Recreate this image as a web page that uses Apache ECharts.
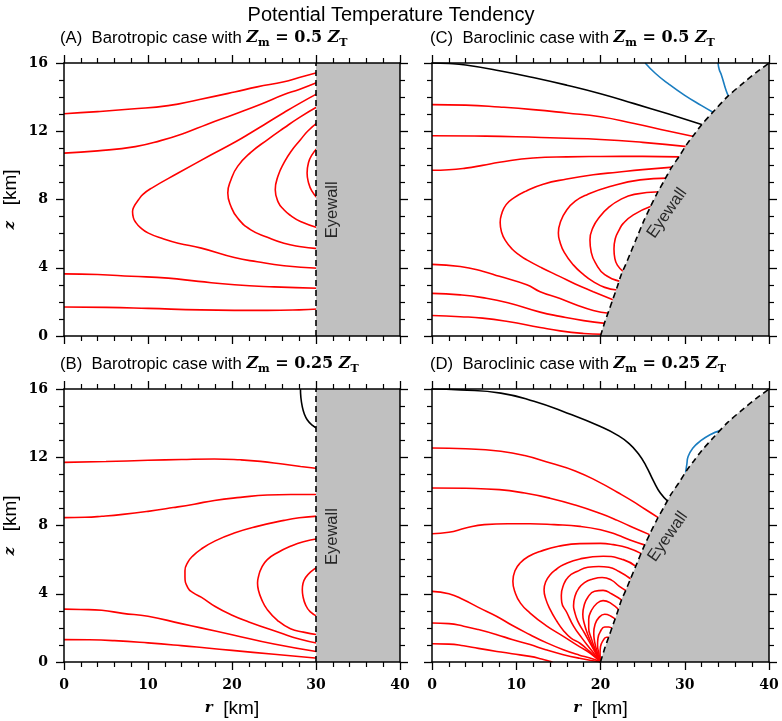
<!DOCTYPE html>
<html>
<head>
<meta charset="utf-8">
<title>Potential Temperature Tendency</title>
<script src="https://cdn.jsdelivr.net/npm/echarts@6.0.0/dist/echarts.min.js"></script>
<style>html,body{margin:0;padding:0;background:#fff}</style>
</head>
<body>
<div id="main" style="width:782px;height:721px"></div>
<script>
// contour lines, each curve is a list of [r (km), z (km)]
var aRed = [
  [[0,13.03],[4,13.15],[8,13.3],[12.4,13.5],[16,13.85],[20.3,14.3],[23,14.6],[26.2,14.9],[28,15.15],[30.2,15.44]],
  [[0,10.72],[4,10.85],[8.5,11.1],[11.5,11.45],[14.4,11.9],[17,12.4],[20.3,13.0],[23.5,13.6],[26.2,14.15],[28,14.45],[30.2,14.87]],
  [[30.2,14.22],[28,13.62],[26.2,13.1],[24.2,12.5],[22.3,11.93],[20.48,11.4],[17.53,10.62],[13.59,9.55],[10.44,8.67],[9.4,8.3],[8.87,7.98],[8.35,7.6],[8.16,7.29],[8.25,6.95],[8.47,6.71],[9.1,6.35],[10.05,6.03],[11.8,5.7],[13.59,5.44],[16.35,5.15],[20.28,4.6],[23,4.35],[26.2,4.12],[30.2,3.97]],
  [[30.2,13.45],[28,12.8],[26.18,12.19],[24.21,11.5],[22.24,10.76],[20.67,9.94],[19.88,9.16],[19.5,8.38],[19.88,7.59],[20.67,6.91],[22.24,6.22],[24.21,5.79],[26.18,5.44],[28,5.25],[30.2,5.12]],
  [[30.2,12.52],[29,12.0],[28.15,11.5],[27,10.8],[26.18,10.14],[25.5,9.4],[25.15,8.57],[25.5,7.85],[26.18,7.4],[27,7.05],[28.15,6.71],[30.2,6.35]],
  [[30.2,11.05],[29.5,10.6],[29.13,10.2],[28.94,9.55],[29.1,9.0],[29.5,8.5],[30.2,8.05]],
  [[0,3.64],[4,3.6],[8,3.5],[12.4,3.39],[16,3.2],[20.3,3.0],[25,2.88],[30.2,2.8]],
  [[0,1.7],[5,1.68],[10,1.62],[16.3,1.53],[24.2,1.5],[28,1.53],[30.2,1.58]]
];
var bRed = [
  [[0,11.7],[5,11.75],[10,11.82],[14,11.87],[17.9,11.9],[21,11.85],[23.4,11.76],[26,11.6],[28.17,11.46],[30.2,11.34]],
  [[0,8.46],[2.5,8.48],[4.5,8.54],[7,8.65],[10,8.83],[13,9.05],[15.5,9.25],[17.9,9.47],[21,9.65],[24.2,9.79],[27,9.82],[30.2,9.82]],
  [[30.2,8.55],[28,8.45],[26.2,8.3],[23,7.95],[20.27,7.56],[18,7.1],[16.33,6.62],[15.3,6.2],[14.75,5.85],[14.4,5.35],[14.4,5.0],[14.75,4.35],[15.4,4.05],[16.33,3.8],[18,3.25],[19.88,2.77],[22,2.35],[25.8,1.7],[28,1.35],[30.2,1.1]],
  [[30.2,7.22],[28.5,7.05],[26.96,6.78],[25.4,6.4],[24.2,6.0],[23.5,5.5],[23.15,5.0],[23.04,4.63],[23.15,4.2],[23.5,3.7],[24.2,3.07],[25.5,2.4],[26.96,1.95],[28.5,1.75],[30.2,1.6]],
  [[30.2,5.57],[29.4,5.3],[28.76,4.95],[28.45,4.6],[28.37,4.24],[28.45,3.85],[28.76,3.35],[29.3,2.95],[30.2,2.66]],
  [[0,3.1],[2,3.08],[4.5,3.03],[7,2.85],[10,2.68],[13.96,2.25],[16.3,2.0],[20,1.6],[25,1.05],[30.2,0.6]],
  [[0,1.31],[3,1.3],[6,1.25],[10,1.12],[13.96,0.96],[17,0.82],[20,0.68],[25,0.45],[30.2,0.22]]
];
var bBlack = [
  [[28.15,16],[28.2,15.5],[28.36,14.98],[28.6,14.55],[28.95,14.2],[29.5,13.9],[30.2,13.68]]
];
var cRed = [
  [[0,13.56],[4,13.53],[8,13.42],[12,13.27],[16,13.07],[20,12.85],[24,12.45],[28,12.02],[31.2,11.68]],
  [[0,11.74],[5,11.72],[10,11.68],[15,11.6],[20,11.52],[25,11.35],[30.3,11.1]],
  [[0,9.71],[2,9.74],[4,9.84],[6,10.0],[8,10.18],[12,10.43],[16,10.5],[20,10.52],[25,10.53],[29.4,10.5]],
  [[28.6,9.9],[25,9.75],[22,9.6],[19.14,9.45],[16,9.2],[13.2,8.9],[11.2,8.5],[9.67,8.08],[8.8,7.7],[8.3,7.2],[8.09,6.65],[8.25,6.1],[8.7,5.6],[9.5,5.1],[10.5,4.7],[11.25,4.46],[13,4.0],[15.2,3.48],[17,3.05],[19.14,2.6],[21.55,2.11]],
  [[27.9,9.25],[24.7,9.15],[21.12,8.76],[18.35,8.27],[17,7.9],[15.99,7.39],[15.3,6.75],[15.0,6.03],[15.2,5.5],[15.7,4.9],[16.77,4.17],[18,3.6],[19.14,3.19],[20.5,2.85],[21.95,2.7]],
  [[27.0,8.45],[24,8.3],[22.3,7.98],[21,7.55],[19.93,7.0],[19.1,6.35],[18.75,5.63],[18.9,4.9],[19.5,4.2],[20.5,3.6],[22.3,3.2]],
  [[26.0,7.6],[23.9,7.1],[22.7,6.6],[22.2,6.2],[21.75,5.7],[21.6,5.1],[21.7,4.55],[22.0,4.15],[22.7,3.77]],
  [[0,4.2],[3.35,4.07],[6,3.8],[8,3.5],[11.25,3.0],[12.83,2.6],[15.2,2.2],[17,1.85],[19.14,1.5],[21.0,1.33]],
  [[0,2.5],[3.35,2.41],[6,2.25],[9,1.95],[12.83,1.4],[15.2,1.15],[18,0.9],[20.55,0.74]],
  [[0,1.2],[3.35,1.13],[6,1.05],[9,0.85],[12.83,0.5],[15.2,0.3],[18,0.15],[20.15,0.1]]
];
var cBlack = [
  [[0,16],[2,15.97],[4,15.88],[8,15.55],[12,15.15],[16,14.7],[20,14.2],[24,13.62],[28,13.02],[32.1,12.38]]
];
var cBlue = [
  [[25.3,16],[26.5,15.4],[28,14.8],[30,14.1],[32,13.5],[33.4,13.1]],
  [[33.95,16],[34.1,15.6],[34.35,15.3],[34.9,14.4],[35.2,14.04]]
];
var dRed = [
  [[0,12.54],[4,12.5],[8.16,12.35],[11,12.1],[14.07,11.66],[17,11.2],[20,10.5],[22,9.95],[23.9,9.4],[25.3,8.95],[26.9,8.45]],
  [[0,10.2],[4,10.18],[8,10.1],[11,9.9],[14,9.6],[17,9.2],[20,8.7],[22,8.3],[24,7.85],[25.9,7.45]],
  [[0,7.52],[2,7.6],[4,7.85],[6.2,8.05],[9,8.1],[11.64,8.1],[14.5,8.05],[17.56,7.95],[20,7.75],[21.95,7.46],[23.5,7.15],[25.3,6.85]],
  [[24.85,6.35],[23.2,6.7],[21.5,6.88],[20,6.95],[17.56,6.94],[15,6.78],[12.83,6.48],[11.5,6.2],[10.46,5.8],[9.85,5.35],[9.6,4.73],[9.85,4.1],[10.5,3.45],[11.64,2.87],[13.5,2.15],[15.59,1.5],[17.5,0.9],[18.75,0.52],[20,0]],
  [[24.2,5.6],[22.7,6.0],[20.33,6.2],[17.56,6.04],[15.59,5.7],[14.8,5.45],[14.0,5.1],[13.5,4.7],[13.3,4.24],[13.5,3.7],[14.0,3.1],[14.8,2.4],[15.59,1.85],[16.5,1.4],[17.56,1.1],[18.7,0.62],[20,0]],
  [[23.65,4.85],[22.2,5.3],[21.0,5.55],[19.8,5.6],[18.5,5.55],[17.2,5.3],[16.2,5.0],[15.6,4.5],[15.35,3.9],[15.4,3.5],[16.0,2.9],[16.8,2.1],[17.8,1.4],[18.9,0.7],[20,0]],
  [[23.15,4.15],[22.2,4.45],[21.3,4.8],[20.2,4.95],[19.0,4.85],[18.1,4.65],[17.4,4.3],[17.0,3.9],[16.8,3.3],[16.9,3.0],[17.3,2.4],[18.1,1.7],[19.0,0.9],[20,0]],
  [[22.75,3.55],[21.3,4.0],[20.3,4.2],[19.3,4.15],[18.5,3.8],[18.05,3.3],[17.9,2.8],[18.05,2.3],[18.5,1.6],[19.2,0.8],[20,0]],
  [[22.3,3.0],[21.2,3.45],[20.3,3.6],[19.5,3.4],[18.9,3.0],[18.6,2.5],[18.6,2.0],[18.9,1.4],[19.4,0.7],[20,0]],
  [[21.9,2.45],[21.2,2.7],[20.5,2.8],[19.8,2.6],[19.35,2.2],[19.2,1.7],[19.3,1.2],[19.6,0.6],[20,0]],
  [[21.5,1.9],[21.0,2.05],[20.5,2.05],[20.0,1.8],[19.7,1.4],[19.65,1.0],[19.8,0.5],[20,0]],
  [[21.1,1.45],[20.7,1.45],[20.3,1.25],[20.0,0.9],[19.95,0.5],[20,0]],
  [[0,4.14],[2,4.0],[3.75,3.65],[5.5,3.2],[7.7,2.67],[9.5,2.15],[11.64,1.6],[13.5,1.15],[15.59,0.72],[17.5,0.4],[18.75,0.23],[20,0]],
  [[0,2.29],[2,2.25],[3.75,2.1],[5.5,1.9],[7.7,1.6],[9.5,1.32],[11.64,1.02],[13.5,0.72],[15.59,0.43],[17.5,0.22],[20,0]],
  [[0,1.07],[2,1.05],[3.75,0.95],[5.5,0.8],[7.7,0.62],[9.5,0.48],[11.64,0.33],[13.0,0.18],[14.3,0]]
];
var dBlack = [
  [[0,16],[3.4,15.95],[8.16,15.76],[12.1,15.28],[16.0,14.6],[20,13.8],[22,13.3],[23.4,12.8],[24.5,12.2],[25.4,11.5],[26.3,10.6],[27.1,9.9],[28.0,9.42]]
];
var dBlue = [
  [[30.1,11.1],[30.25,11.6],[30.4,12.05],[31.0,12.55],[31.8,12.93],[33.0,13.32],[34.2,13.56]]
];
// eyewall boundaries
var eyewallBarotropic = [[30,0],[30,16]];
var eyewallBaroclinic = [[20,0],[20.5,0.8],[21.0,1.5],[21.5,2.2],[22.0,2.9],[22.5,3.65],[23.0,4.2],[23.5,4.8],[24.3,5.75],[25.1,6.7],[25.9,7.55],[26.7,8.35],[27.5,9.05],[28.4,9.85],[29.3,10.5],[30.2,11.2],[31.1,11.8],[32.0,12.38],[33.3,13.1],[35.1,14.04],[37.0,14.85],[38.5,15.45],[40,16]];
var rTicks = [0, 40, 10];
var zTicks = [0, 16, 4];
var panelNames = ['(A)', '(B)', '(C)', '(D)'];
var panelCases = ['Barotropic', 'Barotropic', 'Baroclinic', 'Baroclinic'];
var panelRatios = ['0.5', '0.25', '0.5', '0.25'];

var myChart = echarts.init(document.getElementById('main'), null, {renderer: 'canvas'});

var sans = 'Liberation Sans';
var serif = 'DejaVu Serif';

var grids = [
  {left: 62, top: 63, width: 338, height: 273},
  {left: 62, top: 389, width: 338, height: 273},
  {left: 432, top: 63, width: 337, height: 273},
  {left: 432, top: 389, width: 337, height: 273}
];

var nameRich = {
  i: {fontFamily: serif, fontStyle: 'italic', fontWeight: 'bold', fontSize: 15, color: '#000'},
  t: {fontFamily: sans, fontSize: 19, fontWeight: 'normal', color: '#000'}
};

var xAxes = [], yAxes = [];
function axisCommon(pos, showLabel) {
  return {
    type: 'value', position: pos, z: 10,
    axisLine: {show: true, onZero: false, lineStyle: {color: '#000', width: 1.5}},
    axisTick: {show: true, inside: false, length: 8, lineStyle: {color: '#000', width: 1.3}},
    minorTick: {show: true, splitNumber: 5, length: 5, lineStyle: {color: '#000', width: 1.2}},
    splitLine: {show: false},
    axisLabel: {show: showLabel, fontFamily: serif, fontWeight: 'bold', fontSize: 14, color: '#000', margin: 16}
  };
}
for (var i = 0; i < 4; i++) {
  var xb = axisCommon('bottom', i === 1 || i === 3);
  xb.gridIndex = i; xb.min = rTicks[0]; xb.max = rTicks[1]; xb.interval = rTicks[2];
  if (i === 1 || i === 3) {
    xb.name = '{i|r}{t|  [km]}';
    xb.nameLocation = 'middle';
    xb.nameGap = 37;
    xb.nameTextStyle = {rich: nameRich};
  }
  xAxes[i] = xb;
  var xt = axisCommon('top', false);
  xt.gridIndex = i; xt.min = rTicks[0]; xt.max = rTicks[1]; xt.interval = rTicks[2];
  xAxes[i + 4] = xt;

  var yl = axisCommon('left', i === 0 || i === 1);
  yl.gridIndex = i; yl.min = zTicks[0]; yl.max = zTicks[1]; yl.interval = zTicks[2];
  yl.minorTick.splitNumber = 4;
  if (i === 0 || i === 1) {
    yl.name = '{i|z}{t|   [km]}';
    yl.nameLocation = 'middle';
    yl.nameRotate = 90;
    yl.nameGap = 44;
    yl.nameTextStyle = {rich: nameRich};
  }
  yAxes[i] = yl;
  var yr = axisCommon('right', false);
  yr.gridIndex = i; yr.min = zTicks[0]; yr.max = zTicks[1]; yr.interval = zTicks[2];
  yr.minorTick.splitNumber = 4;
  yAxes[i + 4] = yr;
}

var series = [];
function addLines(g, curves, color) {
  curves.forEach(function (c) {
    series.push({
      type: 'line', xAxisIndex: g, yAxisIndex: g, data: c,
      symbol: 'none', smooth: 0.5, silent: true, z: 2,
      lineStyle: {color: color, width: 1.6}
    });
  });
}
function addEyewall(g, edge, fillTop) {
  series.push({
    type: 'line', xAxisIndex: g, yAxisIndex: g, data: fillTop || edge,
    symbol: 'none', smooth: fillTop ? false : 0.3, silent: true, z: 3,
    lineStyle: {width: 0}, areaStyle: {color: '#c0c0c0', opacity: 1}
  });
  series.push({
    type: 'line', xAxisIndex: g, yAxisIndex: g, data: edge,
    symbol: 'none', smooth: fillTop ? false : 0.3, silent: true, z: 4,
    lineStyle: {color: '#000', width: 1.6, type: [6, 4]}
  });
}
function addLabel(g, pos, angle) {
  series.push({
    type: 'scatter', xAxisIndex: g, yAxisIndex: g, data: [pos],
    symbolSize: 1, itemStyle: {color: 'rgba(0,0,0,0)'}, silent: true, z: 5,
    label: {show: true, position: 'inside', formatter: 'Eyewall', rotate: angle,
      fontFamily: sans, fontSize: 16.5, color: '#000'}
  });
}

addLines(0, aRed, '#ff0000');
addEyewall(0, eyewallBarotropic, [[30,16],[40,16]]);
addLabel(0, [31.9, 7.4], 90);

addLines(1, bRed, '#ff0000');
addLines(1, bBlack, '#000000');
addEyewall(1, eyewallBarotropic, [[30,16],[40,16]]);
addLabel(1, [31.9, 7.35], 90);

addLines(2, cRed, '#ff0000');
addLines(2, cBlack, '#000000');
addLines(2, cBlue, '#1a7dc0');
addEyewall(2, eyewallBaroclinic);
addLabel(2, [27.9, 7.2], 55);

addLines(3, dRed, '#ff0000');
addLines(3, dBlack, '#000000');
addLines(3, dBlue, '#1a7dc0');
addEyewall(3, eyewallBaroclinic);
addLabel(3, [28.0, 7.35], 55);

var subRich = {
  n: {fontFamily: sans, fontSize: 16.7, fontWeight: 'normal', color: '#000', lineHeight: 22},
  z: {fontFamily: serif, fontStyle: 'italic', fontWeight: 'bold', fontSize: 16, color: '#000', lineHeight: 22},
  s: {fontFamily: serif, fontWeight: 'bold', fontSize: 11, color: '#000', lineHeight: 14, padding: [10, 0, 0, 0]},
  e: {fontFamily: serif, fontWeight: 'bold', fontSize: 16, color: '#000', lineHeight: 22}
};
var titles = [{
  text: 'Potential Temperature Tendency', left: 'center', top: 0,
  textStyle: {fontFamily: sans, fontSize: 20, fontWeight: 'normal', color: '#000'}
}];
for (var k = 0; k < 4; k++) {
  titles.push({
    text: '{n|' + panelNames[k] + '  ' + panelCases[k] + ' case with }{z|Z}{s|m}{e| = ' + panelRatios[k] + ' }{z|Z}{s|T}',
    left: grids[k].left - 2, top: grids[k].top - 36, padding: 0,
    textStyle: {fontWeight: 'normal', rich: subRich}
  });
}

var option = {
  backgroundColor: '#fff',
  animation: false,
  title: titles,
  grid: grids,
  xAxis: xAxes,
  yAxis: yAxes,
  series: series
};
myChart.setOption(option);
</script>
</body>
</html>
